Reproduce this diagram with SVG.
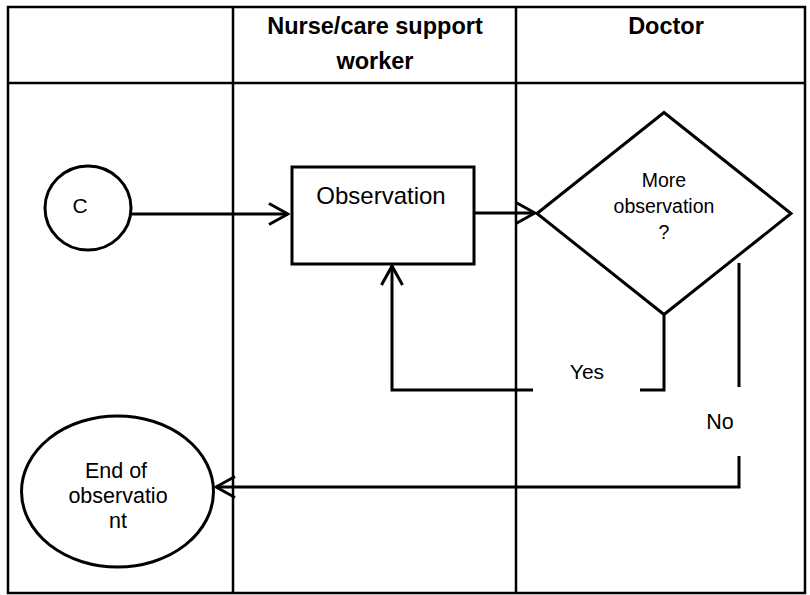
<svg xmlns="http://www.w3.org/2000/svg" width="810" height="595" viewBox="0 0 810 595">
<style>
.grid{fill:none;stroke:#000;stroke-width:2.5}
.shape{fill:#fff;stroke:#000;stroke-width:3}
.conn{fill:none;stroke:#000;stroke-width:3}
.head{font-family:"Liberation Sans",Arial,sans-serif;font-weight:bold;font-size:23.5px;text-anchor:middle;fill:#000}
.lbl{font-family:"Liberation Sans",Arial,sans-serif;text-anchor:middle;fill:#000}
</style>
<defs>
<marker id="chev" viewBox="0 0 22 24" refX="20" refY="12" markerWidth="22" markerHeight="24" markerUnits="userSpaceOnUse" orient="auto">
<path d="M1,1.5 L20,12 L1,22.5" fill="none" stroke="#000" stroke-width="3"/>
</marker>
</defs>
<rect width="810" height="595" fill="#fff"/>
<g id="table">
<rect class="grid" x="8" y="7" width="797" height="586"/>
<line class="grid" x1="8" y1="83" x2="805" y2="83"/>
<line class="grid" x1="233" y1="7" x2="233" y2="593"/>
<line class="grid" x1="516" y1="7" x2="516" y2="593"/>
<text class="head" x="375" y="34">Nurse/care support</text>
<text class="head" x="375" y="69">worker</text>
<text class="head" x="666" y="34">Doctor</text>
</g>
<g id="connectors">
<line class="conn" x1="131" y1="214" x2="288" y2="214" marker-end="url(#chev)"/>
<line class="conn" x1="474" y1="213" x2="535" y2="213" marker-end="url(#chev)"/>
<polyline class="conn" points="664,315 664,390 640,390"/>
<polyline class="conn" points="533,390 392,390 392,266" marker-end="url(#chev)"/>
<line class="conn" x1="739" y1="263" x2="739" y2="387"/>
<polyline class="conn" points="739,456 739,487 216,487" marker-end="url(#chev)"/>
<text class="lbl" x="587" y="379" font-size="21">Yes</text>
<text class="lbl" x="720" y="429" font-size="21.5">No</text>
</g>
<g id="node-c">
<ellipse class="shape" cx="88" cy="208" rx="43" ry="42"/>
<text class="lbl" x="80" y="213" font-size="21">C</text>
</g>
<g id="node-observation">
<rect class="shape" x="292" y="167" width="182" height="97"/>
<text class="lbl" x="381" y="204" font-size="24">Observation</text>
</g>
<g id="node-decision">
<polygon class="shape" points="537,213.5 664,112.5 791,213.5 664,314.5"/>
<text class="lbl" x="664" y="187" font-size="19.5">More</text>
<text class="lbl" x="664" y="213" font-size="19.5">observation</text>
<text class="lbl" x="664" y="239" font-size="19.5">?</text>
</g>
<g id="node-end">
<ellipse class="shape" cx="117.5" cy="491.5" rx="96" ry="75.5"/>
<text class="lbl" x="116" y="478" font-size="21.5">End of</text>
<text class="lbl" x="118" y="503" font-size="21.5">observatio</text>
<text class="lbl" x="118" y="528" font-size="21.5">nt</text>
</g>
</svg>
